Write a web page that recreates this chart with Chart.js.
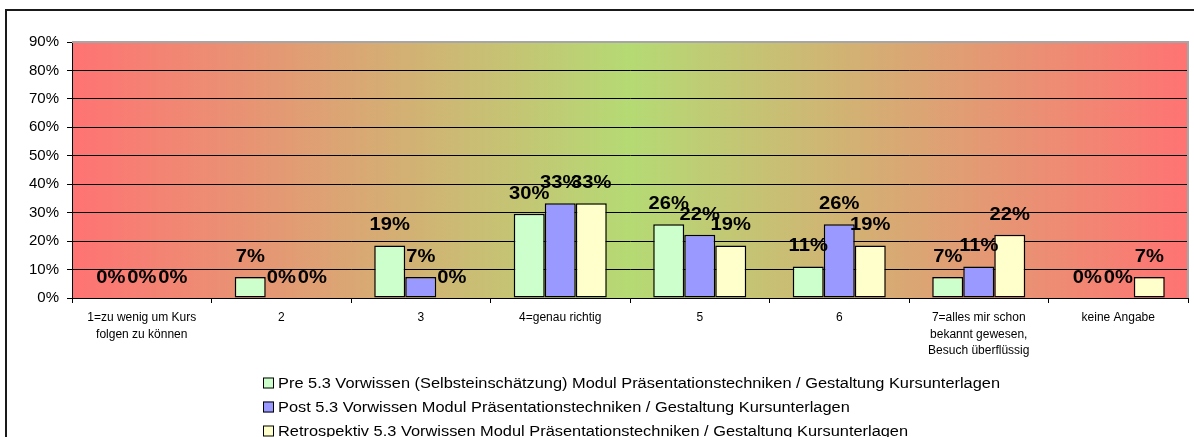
<!DOCTYPE html>
<html>
<head>
<meta charset="utf-8">
<script src="https://cdn.jsdelivr.net/npm/chart.js@4.4.1/dist/chart.umd.min.js"></script>
<style>
  html, body { margin: 0; padding: 0; background: #fff; }
  #wrap { width: 1194px; height: 437px; position: relative; }
</style>
</head>
<body>
<div id="wrap"><canvas id="chart"></canvas></div>
<script>
// --- data (share of 27 answers, in %) ---
const categories = [
    ['1=zu wenig um Kurs', 'folgen zu können'],
    '2',
    '3',
    '4=genau richtig',
    '5',
    '6',
    ['7=alles mir schon', 'bekannt gewesen,', 'Besuch überflüssig'],
    'keine Angabe'
];
const preValues   = [0, 7.4, 18.5, 29.6, 25.9, 11.1, 7.4, 0];
const postValues  = [0, 0, 7.4, 33.3, 22.2, 25.9, 11.1, 0];
const retroValues = [0, 0, 0, 33.3, 18.5, 18.5, 22.2, 7.4];
const seriesNames = [
    'Pre 5.3 Vorwissen (Selbsteinschätzung) Modul Präsentationstechniken / Gestaltung Kursunterlagen',
    'Post 5.3 Vorwissen Modul Präsentationstechniken / Gestaltung Kursunterlagen',
    'Retrospektiv 5.3 Vorwissen Modul Präsentationstechniken / Gestaltung Kursunterlagen'
];
const seriesColors = ['#CCFFCC', '#9999FF', '#FFFFCC'];
const yTicks = [0, 10, 20, 30, 40, 50, 60, 70, 80, 90];

const FONT = "'Liberation Sans', Arial, sans-serif";

// text in the original is a bit wider than Arial, stretch it a little
const wideText = (ctx, text, x, y, sx) => {
    ctx.save();
    ctx.translate(x, y);
    ctx.scale(sx, 1);
    ctx.fillText(text, 0, 0);
    ctx.restore();
};

// red - green - red background behind the plot
const backgroundPlugin = {
    id: 'plotBackground',
    beforeDraw(chart) {
        const { ctx, chartArea: a } = chart;
        const g = ctx.createLinearGradient(a.left, 0, a.right, 0);
        g.addColorStop(0, '#FF7373');
        g.addColorStop(0.5, '#B5DA74');
        g.addColorStop(1, '#FF7373');
        ctx.save();
        ctx.fillStyle = g;
        ctx.fillRect(a.left, a.top, a.right - a.left, a.bottom - a.top);
        ctx.restore();
    },
    afterDraw(chart) {
        const { ctx, chartArea: a } = chart;
        ctx.save();
        // plot area border top / right
        ctx.strokeStyle = '#A6A6A6';
        ctx.lineWidth = 2;
        ctx.beginPath();
        ctx.moveTo(a.left, a.top);
        ctx.lineTo(a.right, a.top);
        ctx.lineTo(a.right, a.bottom);
        ctx.stroke();
        // outer chart frame
        ctx.strokeStyle = '#1a1a1a';
        ctx.lineWidth = 2;
        ctx.strokeRect(6, 10, 1400, 800);
        ctx.restore();
    }
};

// value labels above the bars
const valueLabelPlugin = {
    id: 'valueLabels',
    afterDatasetsDraw(chart) {
        const ctx = chart.ctx;
        ctx.save();
        ctx.font = 'bold 18px ' + FONT;
        ctx.fillStyle = '#000';
        ctx.textAlign = 'center';
        ctx.textBaseline = 'middle';
        chart.data.datasets.forEach((ds, i) => {
            chart.getDatasetMeta(i).data.forEach((bar, j) => {
                wideText(ctx, Math.round(ds.data[j]) + '%', bar.x, bar.y - 20, 1.12);
            });
        });
        ctx.restore();
    }
};

// legend stacked under the axis, left aligned
const legendPlugin = {
    id: 'stackedLegend',
    afterDraw(chart) {
        const ctx = chart.ctx;
        ctx.save();
        ctx.font = '14px ' + FONT;
        ctx.textBaseline = 'middle';
        ctx.textAlign = 'left';
        chart.data.datasets.forEach((ds, i) => {
            const y = 383 + i * 24;
            ctx.fillStyle = ds.backgroundColor;
            ctx.fillRect(263, y - 5.5, 11, 11);
            ctx.strokeStyle = '#000';
            ctx.lineWidth = 1;
            ctx.strokeRect(263.5, y - 5, 10, 10);
            ctx.fillStyle = '#000';
            wideText(ctx, ds.label, 278, y + 1, 1.17);
        });
        ctx.restore();
    }
};

const datasets = [preValues, postValues, retroValues].map((vals, i) => ({
    label: seriesNames[i],
    data: vals,
    backgroundColor: seriesColors[i],
    borderColor: '#000',
    borderWidth: 1.5,
    borderSkipped: false,
    barPercentage: 1,
    categoryPercentage: 0.667
}));

new Chart(document.getElementById('chart'), {
    type: 'bar',
    data: { labels: categories, datasets },
    options: {
        responsive: true,
        maintainAspectRatio: false,
        animation: false,
        layout: { padding: { top: 42, right: 6, left: 0, bottom: 0 } },
        plugins: {
            legend: { display: false },
            tooltip: { enabled: false }
        },
        scales: {
            x: {
                afterFit: s => { s.height = 139; },
                grid: {
                    offset: true,
                    drawOnChartArea: false,
                    tickLength: 5,
                    tickColor: '#000'
                },
                border: { color: '#000', width: 1 },
                ticks: {
                    color: '#000',
                    font: { family: FONT, size: 12, lineHeight: 1.35 },
                    padding: 7,
                    maxRotation: 0,
                    autoSkip: false
                }
            },
            y: {
                min: 0,
                max: 90,
                afterFit: s => { s.width = 72; },
                afterBuildTicks: s => { s.ticks = yTicks.map(v => ({ value: v })); },
                grid: {
                    color: c => (c.tick && c.tick.value === 90) ? 'rgba(0,0,0,0)' : '#000',
                    lineWidth: 1,
                    tickLength: 5,
                    tickColor: '#000'
                },
                border: { color: '#000', width: 1 },
                ticks: {
                    color: '#000',
                    font: { family: FONT, size: 15 },
                    padding: 8,
                    callback: v => v + '%'
                }
            }
        }
    },
    plugins: [backgroundPlugin, valueLabelPlugin, legendPlugin]
});
</script>
</body>
</html>
